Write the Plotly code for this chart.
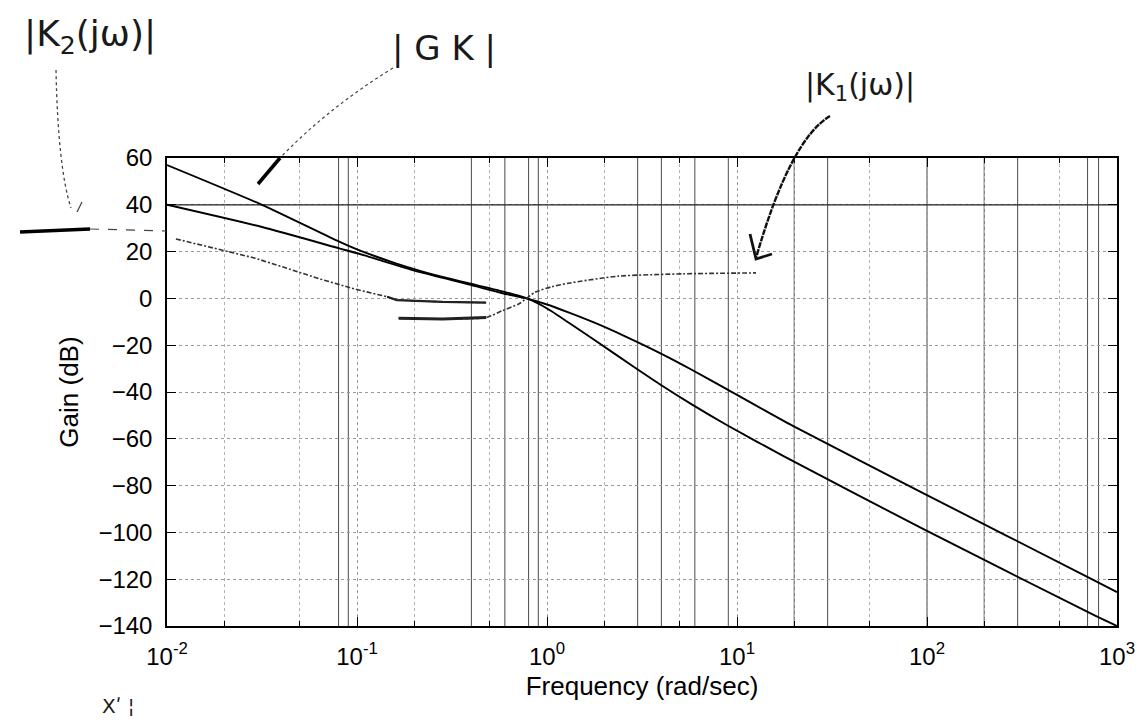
import plotly.graph_objects as go

# ---------------- data ----------------
# |GK| curve (steeper at low frequency, ends lowest)
gk_w = [0.01, 0.03162, 0.08054, 0.1, 0.1259, 0.1585, 0.2148, 0.3162, 0.3908,
        0.5834, 0.7709, 0.8913, 1.062, 1.297, 1.778, 2.884, 3.981, 5.808,
        8.831, 17.38, 95.28, 776.2, 1000]
gk_db = [57.0, 40.0, 24.3, 21.0, 17.9, 15.1, 11.8, 8.2, 6.4,
         3.0, 0.2, -2.0, -5.6, -10.3, -17.8, -29.4, -37.0, -45.4,
         -54.1, -67.2, -98.5, -135.8, -140.0]

# |K2(jw)| curve (integrator at low frequency, ends at about -126 dB)
k2_w = [0.01, 0.03162, 0.08054, 0.1096, 0.1439, 0.2148, 0.3908, 0.5834, 0.7709,
        1.0, 1.297, 1.778, 2.512, 3.981, 5.808, 8.831, 19.68, 95.28, 776.2, 1000]
k2_db = [40.0, 30.5, 21.4, 18.4, 15.4, 11.2, 5.9, 2.2, 0.1,
         -2.6, -6.0, -10.4, -15.8, -23.6, -30.6, -38.8, -54.5, -83.2, -120.9, -125.5]

# constant 40 dB line
flat_w = [0.01, 1000]
flat_db = [40, 40]

# hand-drawn |K1(jw)| sketch, two pen strokes
k1_up_w = [0.01114, 0.01778, 0.02911, 0.06457, 0.09638, 0.1439, 0.1622, 0.2818, 0.4786]
k1_up_db = [25.4, 21.4, 17.2, 8.2, 4.1, 0.7, -0.7, -1.5, -1.8]
k1_lo_w = [0.1656, 0.2818, 0.4786, 0.5834, 0.7129, 0.8690, 1.062, 1.297, 2.366, 5.248, 12.59]
k1_lo_db = [-8.5, -8.8, -8.2, -5.2, -2.3, 2.7, 5.0, 6.5, 9.5, 10.5, 10.9]

# frequencies at which the scanned grid lines printed solid
solid_grid_w = [0.08, 0.09, 0.4, 0.6, 0.8, 0.9, 3, 4, 6, 9, 20, 30, 100, 200, 300, 700, 800]

x_tickvals = [0.01, 0.1, 1, 10, 100, 1000]
x_ticktext = ["10<sup>-2</sup>", "10<sup>-1</sup>", "10<sup>0</sup>",
              "10<sup>1</sup>", "10<sup>2</sup>", "10<sup>3</sup>"]
y_tickvals = [60, 40, 20, 0, -20, -40, -60, -80, -100, -120, -140]

# ---------------- layout helpers ----------------
L, T, W, H = 159, 150, 950, 468


def px(x):
    return (x - L) / W


def py(y):
    return 1 - (y - T) / H


fig = go.Figure()

for w in solid_grid_w:
    fig.add_shape(type="line", xref="x", yref="paper", x0=w, x1=w, y0=0, y1=1,
                  line=dict(color="#4a4a4a", width=1), layer="below")

fig.add_trace(go.Scatter(x=flat_w, y=flat_db, mode="lines",
                         line=dict(color="#222", width=1.3), hoverinfo="skip"))
fig.add_trace(go.Scatter(x=k2_w, y=k2_db, mode="lines", name="|K2|",
                         line=dict(color="black", width=1.9, shape="spline", smoothing=0.6)))
fig.add_trace(go.Scatter(x=gk_w, y=gk_db, mode="lines", name="|GK|",
                         line=dict(color="black", width=1.9, shape="spline", smoothing=0.6)))

# hand-drawn strokes
fig.add_trace(go.Scatter(x=k1_up_w, y=k1_up_db, mode="lines",
                         line=dict(color="#333", width=1.6, dash="5px,2px,2px,2px")))
fig.add_trace(go.Scatter(x=k1_up_w[5:], y=k1_up_db[5:], mode="lines",
                         line=dict(color="#222", width=2.2)))
fig.add_trace(go.Scatter(x=k1_lo_w, y=k1_lo_db, mode="lines",
                         line=dict(color="#333", width=1.6, dash="5px,2px,2px,2px",
                                   shape="spline", smoothing=0.6)))
fig.add_trace(go.Scatter(x=k1_lo_w[:3], y=k1_lo_db[:3], mode="lines",
                         line=dict(color="#222", width=3)))

# pen line left of the axes
fig.add_shape(type="line", xref="paper", yref="paper", x0=px(12), x1=px(82),
              y0=py(224), y1=py(221), line=dict(color="black", width=3.5))
fig.add_shape(type="line", xref="paper", yref="paper", x0=px(82), x1=px(158),
              y0=py(221), y1=py(223), line=dict(color="#444", width=1.2, dash="dash"))
# |K2| pointer
fig.add_shape(type="path", xref="paper", yref="paper",
              path=f"M {px(48)},{py(62)} Q {px(50)},{py(160)} {px(63)},{py(200)}",
              line=dict(color="#444", width=1.3, dash="dot"))
fig.add_shape(type="line", xref="paper", yref="paper", x0=px(69), x1=px(74),
              y0=py(204), y1=py(194), line=dict(color="#444", width=1.3))
# |GK| pointer
fig.add_shape(type="path", xref="paper", yref="paper",
              path=f"M {px(385)},{py(60)} Q {px(320)},{py(100)} {px(272)},{py(150)}",
              line=dict(color="#444", width=1.2, dash="dot"))
fig.add_shape(type="line", xref="paper", yref="paper", x0=px(272), x1=px(250),
              y0=py(150), y1=py(176), line=dict(color="black", width=3.5))
# |K1| pointer
fig.add_shape(type="path", xref="paper", yref="paper",
              path=f"M {px(822)},{py(108)} Q {px(782)},{py(132)} {px(748)},{py(250)}",
              line=dict(color="#111", width=2.4, dash="6px,1px"))
fig.add_shape(type="path", xref="paper", yref="paper",
              path=f"M {px(742)},{py(226)} L {px(748)},{py(251)} L {px(764)},{py(246)}",
              line=dict(color="#111", width=2.8))

hand_font = dict(family="DejaVu Sans", color="#1a1a1a")
anchor = dict(xref="paper", yref="paper", showarrow=False,
              xanchor="center", yanchor="middle")
fig.add_annotation(x=px(82), y=py(28), text="|K<sub>2</sub>(jω)|",
                   font=dict(size=36, **hand_font), **anchor)
fig.add_annotation(x=px(436), y=py(40), text="| G K |",
                   font=dict(size=34, **hand_font), **anchor)
fig.add_annotation(x=px(852), y=py(78), text="|K<sub>1</sub>(jω)|",
                   font=dict(size=30, **hand_font), **anchor)
fig.add_annotation(x=px(110), y=py(698), text="Xʹ ¦",
                   font=dict(size=20, **hand_font), **anchor)

tick_font = dict(family="Liberation Sans, Arial", size=24, color="black")
title_font = dict(family="Liberation Sans, Arial", size=26, color="black")
fig.update_xaxes(type="log", range=[-2, 3], tickvals=x_tickvals, ticktext=x_ticktext,
                 ticks="inside", ticklen=9, tickwidth=1, tickcolor="black",
                 showline=True, linecolor="black", linewidth=1.5, mirror="allticks",
                 showgrid=True, gridcolor="#9a9a9a", griddash="dot", gridwidth=1,
                 minor=dict(ticks="inside", ticklen=5, tickcolor="black",
                            showgrid=True, gridcolor="#b0b0b0", griddash="dot"),
                 tickfont=tick_font, ticklabelstandoff=8,
                 title=dict(text="Frequency (rad/sec)", font=title_font, standoff=8),
                 zeroline=False)
fig.update_yaxes(range=[-140, 60], tickvals=y_tickvals,
                 ticks="inside", ticklen=9, tickwidth=1, tickcolor="black",
                 showline=True, linecolor="black", linewidth=1.5, mirror="allticks",
                 showgrid=True, gridcolor="#9a9a9a", griddash="dot", gridwidth=1,
                 tickfont=tick_font, ticklabelstandoff=8,
                 title=dict(text="Gain (dB)", font=title_font, standoff=12),
                 zeroline=False)
fig.update_layout(width=1144, height=722, showlegend=False,
                  paper_bgcolor="white", plot_bgcolor="white",
                  margin=dict(l=L, r=1144 - L - W, t=T, b=722 - T - H))

fig.write_html("out.html")
